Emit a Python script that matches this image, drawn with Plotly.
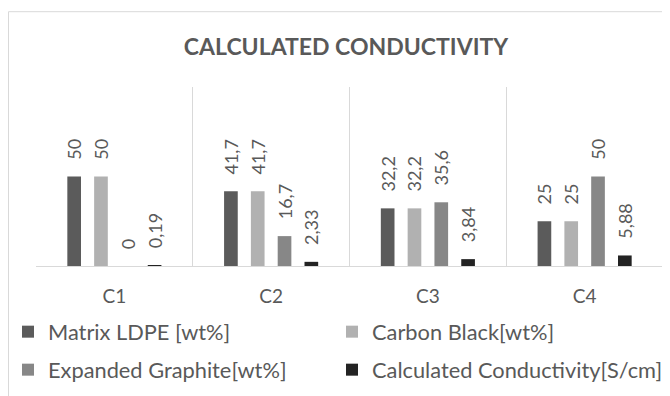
import plotly.graph_objects as go

categories = ["C1", "C2", "C3", "C4"]
matrix_ldpe = [50, 41.7, 32.2, 25]
carbon_black = [50, 41.7, 32.2, 25]
expanded_graphite = [0, 16.7, 35.6, 50]
conductivity = [0.19, 2.33, 3.84, 5.88]

series_names = ["Matrix LDPE [wt%]", "Carbon Black[wt%]",
                "Expanded Graphite[wt%]", "Calculated Conductivity[S/cm]"]
series_values = [matrix_ldpe, carbon_black, expanded_graphite, conductivity]
series_colors = ["#5b5b5b", "#b1b1b1", "#878787", "#232323"]
series_legend = ["legend", "legend2", "legend3", "legend4"]

TXT = "#595959"
FONT = "Lato"
PAD = "\u00a0\u00a0\u00a0"

# the page body adds an 8px offset; work in window pixels and shift
OFF = 8
FW, FH = 670 - OFF, 396 - OFF
L, R, T, B = 36 - OFF, 663 - OFF, 87 - OFF, 266 - OFF
PW, PH = R - L, B - T


def fmt(v):
    return PAD + f"{v:g}".replace(".", ",")


def px_x(x):
    return (x - OFF - L) / PW


def px_y(y):
    return (B - (y - OFF)) / PH


fig = go.Figure()
for name, vals, col, lg in zip(series_names, series_values, series_colors, series_legend):
    fig.add_trace(go.Bar(
        x=categories, y=vals, name=name, marker=dict(color=col, line=dict(width=0)),
        text=[fmt(v) for v in vals], textposition="outside", textangle=-90,
        constraintext="none", cliponaxis=False,
        textfont=dict(family=FONT, size=18, color=TXT),
        legend=lg, showlegend=True, hoverinfo="skip",
    ))

legend_pos = {"legend": (8, 332), "legend2": (332, 332),
              "legend3": (8, 370), "legend4": (332, 370)}
legend_layouts = {}
for key, (lx, ly) in legend_pos.items():
    legend_layouts[key] = dict(
        orientation="h", xref="paper", yref="paper", x=px_x(lx), xanchor="left",
        y=px_y(ly), yanchor="middle", visible=True,
        font=dict(family=FONT, size=21.8, color=TXT), bgcolor="rgba(0,0,0,0)")

fig.update_layout(
    width=FW, height=FH,
    margin=dict(l=L, r=FW - R, t=T, b=FH - B, autoexpand=False),
    paper_bgcolor="white", plot_bgcolor="white",
    showlegend=True,
    barmode="group", bargap=0.316, bargroupgap=0.49,
    font=dict(family=FONT, color=TXT),
    title=dict(text="<b>CALCULATED CONDUCTIVITY</b>", x=(346 - OFF) / FW, xanchor="center",
               xref="container", y=1 - (47 - OFF) / FH, yanchor="middle", yref="container",
               font=dict(family=FONT, size=23, color=TXT)),
    xaxis=dict(type="category", tickson="boundaries", showgrid=True, gridcolor="#d9d9d9",
               gridwidth=1, showline=True, linecolor="#d9d9d9", linewidth=1, ticks="",
               zeroline=False, tickfont=dict(family=FONT, size=19, color=TXT),
               ticklabelstandoff=13),
    yaxis=dict(range=[0, 100], visible=False, showgrid=False, zeroline=False),
    shapes=[dict(type="rect", xref="paper", yref="paper", x0=px_x(8.5), x1=1.2,
                 y0=-1, y1=px_y(11.7), line=dict(color="#d9d9d9", width=1),
                 fillcolor="rgba(0,0,0,0)", layer="below")],
    **legend_layouts,
)

fig.write_html("out.html")
